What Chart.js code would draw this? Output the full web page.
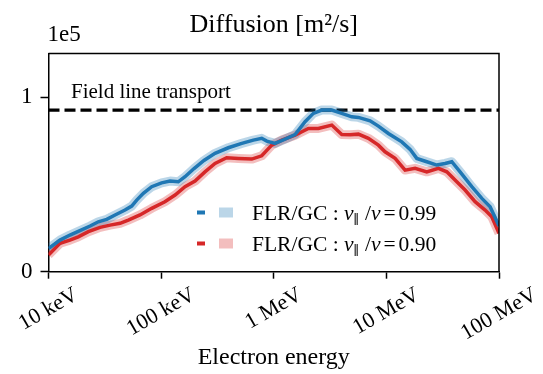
<!DOCTYPE html>
<html><head><meta charset="utf-8">
<script src="https://cdn.jsdelivr.net/npm/chart.js@4/dist/chart.umd.min.js"></script>
<style>html,body{margin:0;padding:0;background:#fff}canvas{display:block}</style>
</head><body>
<canvas id="c" width="543" height="374"></canvas>
<script>
// ---- data (energies in keV, diffusion in units of 1e5 m^2/s) ----
const energyA = [10,12.65,15.5,19.0,23.4,27.7,32.9,39.0,47.8,54.8,60.7,69.5,82.5,101,120,142,163,196,240,301,395,520,659,782,867,1027,1260,1546,1897,2247,2669,3274,4017,4929,5640,7167,8492,10420,13700,16240,18620,22850,28030,33210,38100,45130,57340,70370,83370,100000];
const diffA = [0.133,0.181,0.210,0.235,0.262,0.286,0.300,0.325,0.353,0.376,0.410,0.449,0.487,0.509,0.519,0.515,0.544,0.591,0.637,0.678,0.710,0.735,0.754,0.764,0.748,0.735,0.760,0.786,0.859,0.907,0.926,0.926,0.907,0.887,0.884,0.864,0.834,0.792,0.744,0.701,0.649,0.630,0.611,0.620,0.630,0.572,0.487,0.420,0.372,0.262];
const energyB = [10,12.65,15.5,18.4,22.6,28.7,35.2,43.2,51.1,64.9,82.5,108,133,163,200,245,301,382,485,638,782,960,1178,1546,2029,2490,3274,4017,4760,5640,6921,8492,9739,11950,14660,17990,22850,28960,34400,42200,50000,61350,75250,86300,100000];
const diffB = [0.096,0.163,0.181,0.200,0.229,0.254,0.267,0.277,0.296,0.325,0.363,0.401,0.439,0.487,0.519,0.572,0.620,0.653,0.649,0.645,0.664,0.725,0.754,0.782,0.821,0.821,0.840,0.786,0.785,0.788,0.764,0.725,0.687,0.649,0.582,0.592,0.572,0.592,0.572,0.515,0.468,0.401,0.353,0.315,0.220];
const fieldLineLevel = 0.926;
const xTickValues = [10,100,1000,10000,100000];
const xTickLabels = ['10 keV','100 keV','1 MeV','10 MeV','100 MeV'];
const yTickValues = [0,1];
const yTickLabels = ['0','1'];
const legendRatios = ['0.99','0.90'];
const titleText = 'Diffusion [m²/s]';
const xTitle = 'Electron energy';
const offsetText = '1e5';
const fieldLineText = 'Field line transport';

const BLUE = 'rgb(31,119,180)', BLUE_L = 'rgba(31,119,180,0.3)';
const RED = 'rgb(214,39,40)', RED_L = 'rgba(214,39,40,0.3)';
const SERIF = '"Liberation Serif","DejaVu Serif",serif';

const toPts = (xs, ys) => xs.map((x, i) => ({x, y: ys[i]}));

const overlay = {
  id: 'overlay',
  afterDraw(chart) {
    const {ctx, chartArea: a, scales} = chart;
    ctx.save();
    // top/right frame
    ctx.strokeStyle = '#000'; ctx.lineWidth = 1.5;
    ctx.beginPath();
    ctx.moveTo(a.left, a.top); ctx.lineTo(a.right, a.top); ctx.lineTo(a.right, a.bottom);
    ctx.stroke();
    ctx.fillStyle = '#000';
    // title
    ctx.font = '26px ' + SERIF; ctx.textAlign = 'center'; ctx.textBaseline = 'alphabetic';
    ctx.fillText(titleText, (a.left + a.right) / 2, 32);
    // offset text
    ctx.font = '23px ' + SERIF; ctx.textAlign = 'left';
    ctx.fillText(offsetText, a.left - 1, 41);
    // field line label
    ctx.font = '21px ' + SERIF;
    ctx.fillText(fieldLineText, 71, 98);
    // x tick labels rotated 30deg, centered
    ctx.font = '22px ' + SERIF; ctx.textAlign = 'center'; ctx.textBaseline = 'middle';
    const ang = Math.PI / 6;
    xTickValues.forEach((v, i) => {
      const px = scales.x.getPixelForValue(v);
      const w = ctx.measureText(xTickLabels[i]).width;
      const bh = w * Math.sin(ang) + 22 * Math.cos(ang);
      const cy = a.bottom + 12 + bh / 2;
      ctx.save(); ctx.translate(px, cy); ctx.rotate(-ang);
      ctx.fillText(xTickLabels[i], 0, 0);
      ctx.restore();
    });
    // legend
    const rows = [{c: BLUE, l: BLUE_L, cy: 212.5}, {c: RED, l: RED_L, cy: 243.5}];
    rows.forEach((r, i) => {
      ctx.fillStyle = r.c; ctx.fillRect(197, r.cy - 2, 8, 4);
      ctx.fillStyle = r.l; ctx.fillRect(219, r.cy - 5, 14, 10);
      ctx.fillStyle = '#000'; ctx.textAlign = 'left'; ctx.textBaseline = 'alphabetic';
      let x = 252; const by = r.cy + 7;
      const parts = [
        {t: 'FLR/GC : ', f: '21.5px ' + SERIF, dy: 0},
        {t: 'v', f: 'italic 21.5px ' + SERIF, dy: 0},
        {t: '∥', f: '13px ' + SERIF, dy: 4},
        {t: ' /', f: '21.5px ' + SERIF, dy: 0},
        {t: 'v', f: 'italic 21.5px ' + SERIF, dy: 0},
        {t: '=', f: '21.5px ' + SERIF, dy: 0, pad: 3},
        {t: legendRatios[i], f: '21.5px ' + SERIF, dy: 0, pad: 3}
      ];
      parts.forEach(p => {
        ctx.font = p.f;
        if (p.pad) x += p.pad;
        ctx.fillText(p.t, x, by + p.dy);
        x += ctx.measureText(p.t).width;
      });
    });
    ctx.restore();
  }
};

new Chart(document.getElementById('c'), {
  type: 'line',
  data: {
    datasets: [
      {data: [{x: 10, y: fieldLineLevel}, {x: 100000, y: fieldLineLevel}], borderColor: '#000', borderWidth: 3.2, borderDash: [11, 5], pointRadius: 0, order: 10},
      {data: toPts(energyB, diffB), borderColor: RED_L, borderWidth: 9, pointRadius: 0, order: 9, borderJoinStyle: 'round'},
      {data: toPts(energyA, diffA), borderColor: BLUE_L, borderWidth: 9, pointRadius: 0, order: 8, borderJoinStyle: 'round'},
      {data: toPts(energyB, diffB), borderColor: RED, borderWidth: 3.5, pointRadius: 0, order: 7},
      {data: toPts(energyA, diffA), borderColor: BLUE, borderWidth: 3.5, pointRadius: 0, order: 6}
    ]
  },
  options: {
    responsive: false, animation: false, devicePixelRatio: 1,
    layout: {padding: {left: 0, right: 44, top: 53.5, bottom: 0}},
    plugins: {legend: {display: false}, tooltip: {enabled: false}, title: {display: false}},
    elements: {line: {tension: 0}},
    scales: {
      x: {
        type: 'logarithmic', min: 10, max: 100000,
        afterBuildTicks: s => { s.ticks = xTickValues.map(v => ({value: v})); },
        afterFit: s => { s.height = 102.3; },
        ticks: {display: false},
        grid: {drawOnChartArea: false, drawTicks: true, tickLength: 7, color: '#000', tickWidth: 1.5},
        border: {display: true, color: '#000', width: 1.5},
        title: {display: true, text: xTitle, color: '#000', font: {family: SERIF, size: 24}, padding: {top: 0, bottom: 2}}
      },
      y: {
        min: 0, max: 1.25,
        afterBuildTicks: s => { s.ticks = yTickValues.map(v => ({value: v})); },
        afterFit: s => { s.width = 48.5; },
        ticks: {color: '#000', font: {family: SERIF, size: 23}, padding: 8,
          callback: v => yTickLabels[yTickValues.indexOf(v)]},
        grid: {drawOnChartArea: false, drawTicks: true, tickLength: 8, color: '#000', tickWidth: 1.5},
        border: {display: true, color: '#000', width: 1.5}
      }
    }
  },
  plugins: [overlay]
});
</script>
</body></html>
